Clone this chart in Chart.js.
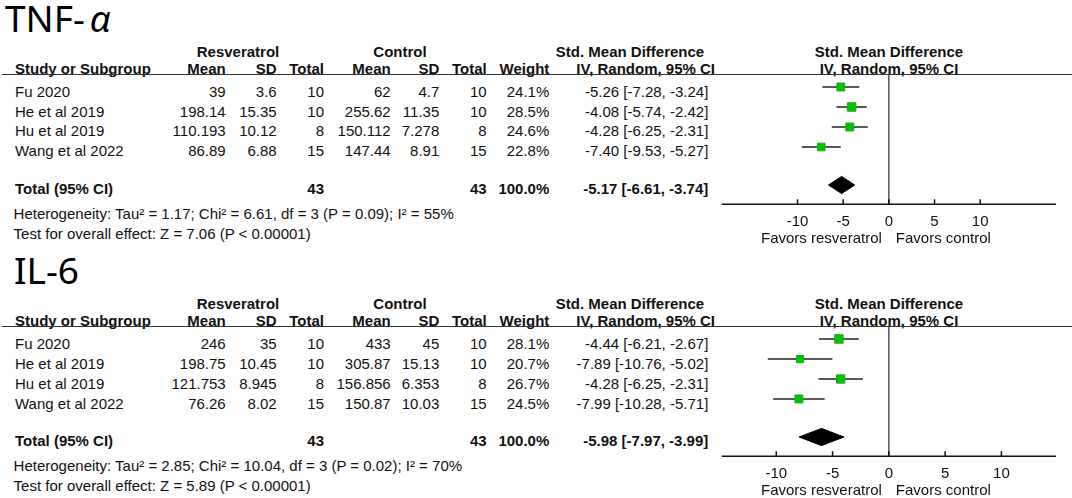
<!DOCTYPE html>
<html lang="en">
<head>
<meta charset="UTF-8">
<title>Resveratrol forest plots</title>
<style>
    body {
        margin: 0;
        background: #fff;
    }

    #page {
        position: relative;
        width: 1072px;
        height: 498px;
        overflow: hidden;
        background: #fff;
    }

    .t {
        position: absolute;
        white-space: nowrap;
        font: 15px 'Liberation Sans', Arial, sans-serif;
        line-height: 15px;
        color: #111;
    }

    .title {
        position: absolute;
        white-space: nowrap;
        font: 37px 'Noto Sans', sans-serif;
        line-height: 38px;
        color: #000;
    }

    .title i {
        margin-left: 5px;
    }

    .rule {
        position: absolute;
        left: 2px;
        width: 1070px;
        border-top: 1.5px solid #333;
    }

    .plot {
        position: absolute;
        left: 700px;
        width: 372px;
        height: 190px;
    }
</style>
</head>
<body>
<div id="page"></div>

<script src="https://cdn.jsdelivr.net/npm/chart.js"></script>
<script>
    // studies (same in both panels)
    const studies = ['Fu 2020', 'He et al 2019', 'Hu et al 2019', 'Wang et al 2022'];

    // TNF-alpha
    const tnfResvMean = [39, 198.14, 110.193, 86.89];
    const tnfResvSd = [3.6, 15.35, 10.12, 6.88];
    const tnfResvN = [10, 10, 8, 15];
    const tnfCtrlMean = [62, 255.62, 150.112, 147.44];
    const tnfCtrlSd = [4.7, 11.35, 7.278, 8.91];
    const tnfCtrlN = [10, 10, 8, 15];
    const tnfWeight = [24.1, 28.5, 24.6, 22.8];
    const tnfSmd = [-5.26, -4.08, -4.28, -7.40];
    const tnfLow = [-7.28, -5.74, -6.25, -9.53];
    const tnfHigh = [-3.24, -2.42, -2.31, -5.27];
    const tnfTotal = [-5.17, -6.61, -3.74];      // estimate, low, high
    const tnfHet = [1.17, 6.61, 3, 0.09, 55];    // tau2, chi2, df, p, I2
    const tnfZ = 7.06;

    // IL-6
    const il6ResvMean = [246, 198.75, 121.753, 76.26];
    const il6ResvSd = [35, 10.45, 8.945, 8.02];
    const il6ResvN = [10, 10, 8, 15];
    const il6CtrlMean = [433, 305.87, 156.856, 150.87];
    const il6CtrlSd = [45, 15.13, 6.353, 10.03];
    const il6CtrlN = [10, 10, 8, 15];
    const il6Weight = [28.1, 20.7, 26.7, 24.5];
    const il6Smd = [-4.44, -7.89, -4.28, -7.99];
    const il6Low = [-6.21, -10.76, -6.25, -10.28];
    const il6High = [-2.67, -5.02, -2.31, -5.71];
    const il6Total = [-5.98, -7.97, -3.99];
    const il6Het = [2.85, 10.04, 3, 0.02, 70];
    const il6Z = 5.89;

    const tickValues = [-10, -5, 0, 5, 10];

    const page = document.getElementById('page');
    const FONT = '15px "Liberation Sans", Arial, sans-serif';

    function txt(s, x, y, align, bold) {
        const el = document.createElement('div');
        el.className = 't';
        el.textContent = s;
        if (bold) el.style.fontWeight = 'bold';
        el.style.left = x + 'px';
        el.style.top = y + 'px';
        const dx = align === 'right' ? '-100%' : align === 'center' ? '-50%' : '0';
        el.style.transform = 'translate(' + dx + ', -50%)';
        page.appendChild(el);
    }

    const ci = (e, l, h) => e.toFixed(2) + ' [' + l.toFixed(2) + ', ' + h.toFixed(2) + ']';
    const sum = a => a.reduce((s, v) => s + v, 0);

    // draws zero line, axis, inward ticks and labels with the chart's x scale
    const forestAxis = {
        id: 'forestAxis',
        afterDraw(chart) {
            const { ctx, chartArea } = chart;
            const xs = chart.scales.x;
            const x0 = xs.getPixelForValue(0);
            const b = chartArea.bottom;
            ctx.save();
            ctx.strokeStyle = '#555';
            ctx.lineWidth = 1.5;
            ctx.beginPath();
            ctx.moveTo(x0, chartArea.top);
            ctx.lineTo(x0, b);
            ctx.stroke();

            ctx.strokeStyle = '#111';
            ctx.beginPath();
            ctx.moveTo(chartArea.left, b);
            ctx.lineTo(chartArea.right, b);
            tickValues.forEach(v => {
                const px = xs.getPixelForValue(v);
                ctx.moveTo(px, b);
                ctx.lineTo(px, b - 5);
            });
            ctx.stroke();

            ctx.fillStyle = '#111';
            ctx.font = FONT;
            ctx.textBaseline = 'middle';
            ctx.textAlign = 'center';
            tickValues.forEach(v => ctx.fillText(String(v), xs.getPixelForValue(v), b + 17.5));
            ctx.textAlign = 'right';
            ctx.fillText('Favors resveratrol', x0 - 7, b + 35);
            ctx.textAlign = 'left';
            ctx.fillText('Favors control', x0 + 7, b + 35);
            ctx.restore();
        }
    };

    function panel(top, titleHtml, titleLeft, d, xRange) {
        const t = document.createElement('div');
        t.className = 'title';
        t.innerHTML = titleHtml;
        t.style.left = titleLeft + 'px';
        t.style.top = (top - 1.5) + 'px';
        page.appendChild(t);

        // header rows
        txt('Resveratrol', 238, top + 51, 'center', true);
        txt('Control', 400, top + 51, 'center', true);
        txt('Std. Mean Difference', 630, top + 51, 'center', true);
        txt('Std. Mean Difference', 889, top + 51, 'center', true);
        const hy = top + 67.7;
        txt('Study or Subgroup', 15, hy, 'left', true);
        txt('Mean', 225.7, hy, 'right', true);
        txt('SD', 276.7, hy, 'right', true);
        txt('Total', 324, hy, 'right', true);
        txt('Mean', 390.7, hy, 'right', true);
        txt('SD', 439.3, hy, 'right', true);
        txt('Total', 486.7, hy, 'right', true);
        txt('Weight', 549.3, hy, 'right', true);
        txt('IV, Random, 95% CI', 715, hy, 'right', true);
        txt('IV, Random, 95% CI', 889, hy, 'center', true);
        const rule = document.createElement('div');
        rule.className = 'rule';
        rule.style.top = (top + 74) + 'px';
        page.appendChild(rule);

        // study rows
        studies.forEach((s, i) => {
            const y = top + 90.8 + 19.8 * i;
            txt(s, 15, y, 'left');
            txt(String(d.rm[i]), 225.7, y, 'right');
            txt(String(d.rs[i]), 276.7, y, 'right');
            txt(String(d.rn[i]), 324, y, 'right');
            txt(String(d.cm[i]), 390.7, y, 'right');
            txt(String(d.cs[i]), 439.3, y, 'right');
            txt(String(d.cn[i]), 486.7, y, 'right');
            txt(d.w[i].toFixed(1) + '%', 549.3, y, 'right');
            txt(ci(d.smd[i], d.lo[i], d.hi[i]), 708.3, y, 'right');
        });

        const ty = top + 188;
        txt('Total (95% CI)', 15, ty, 'left', true);
        txt(String(sum(d.rn)), 324, ty, 'right', true);
        txt(String(sum(d.cn)), 486.7, ty, 'right', true);
        txt(sum(d.w).toFixed(1) + '%', 549.3, ty, 'right', true);
        txt(ci(d.tot[0], d.tot[1], d.tot[2]), 708.3, ty, 'right', true);
        txt('Heterogeneity: Tau\u00b2 = ' + d.het[0].toFixed(2) + '; Chi\u00b2 = ' + d.het[1].toFixed(2) +
            ', df = ' + d.het[2] + ' (P = ' + d.het[3].toFixed(2) + '); I\u00b2 = ' + d.het[4] + '%',
            13.6, top + 212.5, 'left');
        txt('Test for overall effect: Z = ' + d.z.toFixed(2) + ' (P < 0.00001)', 13.6, top + 233, 'left');

        // forest plot
        const box = document.createElement('div');
        box.className = 'plot';
        box.style.top = (top + 60) + 'px';
        const cv = document.createElement('canvas');
        cv.width = 372;
        cv.height = 190;
        box.appendChild(cv);
        page.appendChild(box);

        const totalRow = 4.9;
        const datasets = studies.map((s, i) => ({
            type: 'line',
            data: [{ x: d.lo[i], y: i }, { x: d.hi[i], y: i }],
            borderColor: '#222',
            borderWidth: 1.5,
            pointRadius: 0,
            order: 3
        }));
        datasets.push({
            type: 'scatter',
            data: studies.map((s, i) => ({ x: d.smd[i], y: i })),
            pointStyle: 'rect',
            pointRadius: ctx => 1.6 * Math.sqrt(d.w[ctx.dataIndex]) / Math.SQRT2,
            backgroundColor: '#00c400',
            borderColor: '#22a822',
            borderWidth: 1,
            order: 1
        });
        datasets.push({
            type: 'line',
            data: [
                { x: d.tot[1], y: totalRow },
                { x: d.tot[0], y: totalRow - 0.43 },
                { x: d.tot[2], y: totalRow },
                { x: d.tot[0], y: totalRow + 0.43 },
                { x: d.tot[1], y: totalRow }
            ],
            borderColor: '#000',
            backgroundColor: '#000',
            borderWidth: 1,
            pointRadius: 0,
            fill: 'shape',
            tension: 0,
            order: 2
        });

        new Chart(cv, {
            type: 'scatter',
            data: { datasets: datasets },
            options: {
                responsive: false,
                animation: false,
                layout: { padding: { left: 21.7, right: 16, top: 15, bottom: 45.7 } },
                plugins: { legend: { display: false }, tooltip: { enabled: false } },
                scales: {
                    x: { type: 'linear', min: -xRange, max: xRange, display: false },
                    y: { type: 'linear', min: -0.6, max: 5.865, reverse: true, display: false }
                }
            },
            plugins: [forestAxis]
        });
    }

    panel(0, 'TNF-<i>\u03b1</i>', 5, {
        rm: tnfResvMean, rs: tnfResvSd, rn: tnfResvN,
        cm: tnfCtrlMean, cs: tnfCtrlSd, cn: tnfCtrlN,
        w: tnfWeight, smd: tnfSmd, lo: tnfLow, hi: tnfHigh,
        tot: tnfTotal, het: tnfHet, z: tnfZ
    }, 18.3);

    panel(252.3, 'IL-6', 14, {
        rm: il6ResvMean, rs: il6ResvSd, rn: il6ResvN,
        cm: il6CtrlMean, cs: il6CtrlSd, cn: il6CtrlN,
        w: il6Weight, smd: il6Smd, lo: il6Low, hi: il6High,
        tot: il6Total, het: il6Het, z: il6Z
    }, 14.85);
</script>
</body>
</html>
